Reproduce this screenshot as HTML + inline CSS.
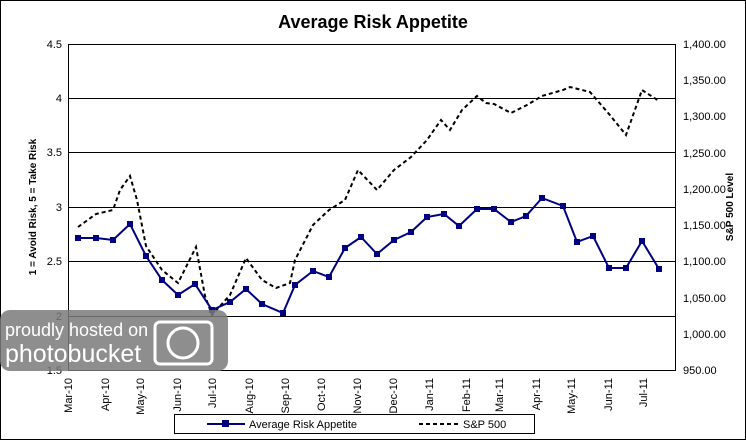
<!DOCTYPE html>
<html><head><meta charset="utf-8"><style>
body{margin:0;background:#fff;}
svg{display:block;font-family:"Liberation Sans",sans-serif;}
</style></head><body>
<svg width="746" height="440" viewBox="0 0 746 440">
<rect x="0.5" y="0.5" width="745" height="439" fill="#fff" stroke="#000"/>
<text x="373" y="28" font-size="18" font-weight="bold" text-anchor="middle">Average Risk Appetite</text>
<g stroke="#000" stroke-width="1">
<line x1="68" y1="98.5" x2="675" y2="98.5"/>
<line x1="68" y1="152.5" x2="675" y2="152.5"/>
<line x1="68" y1="207.5" x2="675" y2="207.5"/>
<line x1="68" y1="261.5" x2="675" y2="261.5"/>
<line x1="68" y1="316.5" x2="675" y2="316.5"/>
<rect x="68.5" y="44.5" width="607" height="326" fill="none"/>
</g>
<g font-size="11" text-anchor="end">
<text x="62" y="48">4.5</text><text x="62" y="102">4</text><text x="62" y="156">3.5</text>
<text x="62" y="211">3</text><text x="62" y="265">2.5</text><text x="62" y="320">2</text><text x="62" y="374">1.5</text>
</g>
<g font-size="11">
<text x="683" y="48">1,400.00</text><text x="683" y="84">1,350.00</text><text x="683" y="120">1,300.00</text>
<text x="683" y="157">1,250.00</text><text x="683" y="193">1,200.00</text><text x="683" y="229">1,150.00</text>
<text x="683" y="265">1,100.00</text><text x="683" y="302">1,050.00</text><text x="683" y="338">1,000.00</text><text x="683" y="374">950.00</text>
</g>
<text transform="translate(36,207) rotate(-90)" font-size="10" font-weight="bold" text-anchor="middle">1 = Avoid Risk, 5 = Take Risk</text>
<text transform="translate(733,207) rotate(-90)" font-size="10" font-weight="bold" text-anchor="middle">S&amp;P 500 Level</text>
<g font-size="11" text-anchor="end">
<text transform="translate(72,378) rotate(-90)">Mar-10</text>
<text transform="translate(109,378) rotate(-90)">Apr-10</text>
<text transform="translate(144,378) rotate(-90)">May-10</text>
<text transform="translate(181,378) rotate(-90)">Jun-10</text>
<text transform="translate(216,378) rotate(-90)">Jul-10</text>
<text transform="translate(253,378) rotate(-90)">Aug-10</text>
<text transform="translate(289,378) rotate(-90)">Sep-10</text>
<text transform="translate(325,378) rotate(-90)">Oct-10</text>
<text transform="translate(361,378) rotate(-90)">Nov-10</text>
<text transform="translate(397,378) rotate(-90)">Dec-10</text>
<text transform="translate(433,378) rotate(-90)">Jan-11</text>
<text transform="translate(470,378) rotate(-90)">Feb-11</text>
<text transform="translate(503,378) rotate(-90)">Mar-11</text>
<text transform="translate(540,378) rotate(-90)">Apr-11</text>
<text transform="translate(575,378) rotate(-90)">May-11</text>
<text transform="translate(612,378) rotate(-90)">Jun-11</text>
<text transform="translate(647,378) rotate(-90)">Jul-11</text>
</g>
<polyline fill="none" stroke="#000" stroke-width="2" stroke-dasharray="4,3" points="78,227 96,214 113,210 120,190 130,176 137,200 146,246 162,270 178,283 196,247 205,296 212,315 230,295 246,258 262,280 276,288 290,283 295,260 313,225 329,210 345,200 358,170 377,190 394,170 411,157 427,140 441,120 450,130 462,110 477,96 486,103 494,104 511,113 527,105 542,96 563,90 570,87 590,92 609,114 626,135 642,90 659,101"/>
<g fill="#000080">
<polyline fill="none" stroke="#000080" stroke-width="2" points="78,238 96,238 113,240 130,224 146,256 162,280 178,295 195,284 212,310 230,302 246,289 262,304 283,313 295,285 313,271 329,277 345,248 361,237 377,254 394,240 411,232 427,217 444,214 459,226 477,209 494,209 511,222 526,216 542,198 563,206 577,242 593,236 609,268 626,268 642,241 659,269"/>
<path d="M75,235h6v6h-6zM93,235h6v6h-6zM110,237h6v6h-6zM127,221h6v6h-6zM143,253h6v6h-6zM159,277h6v6h-6zM175,292h6v6h-6zM192,281h6v6h-6zM209,307h6v6h-6zM227,299h6v6h-6zM243,286h6v6h-6zM259,301h6v6h-6zM280,310h6v6h-6zM292,282h6v6h-6zM310,268h6v6h-6zM326,274h6v6h-6zM342,245h6v6h-6zM358,234h6v6h-6zM374,251h6v6h-6zM391,237h6v6h-6zM408,229h6v6h-6zM424,214h6v6h-6zM441,211h6v6h-6zM456,223h6v6h-6zM474,206h6v6h-6zM491,206h6v6h-6zM508,219h6v6h-6zM523,213h6v6h-6zM539,195h6v6h-6zM560,203h6v6h-6zM574,239h6v6h-6zM590,233h6v6h-6zM606,265h6v6h-6zM623,265h6v6h-6zM639,238h6v6h-6zM656,266h6v6h-6z"/>
</g>
<rect x="174.5" y="414.5" width="360" height="19" fill="#fff" stroke="#000"/>
<line x1="207" y1="424" x2="245" y2="424" stroke="#000080" stroke-width="2"/>
<rect x="222" y="420" width="7" height="7" fill="#000080"/>
<text x="249" y="428" font-size="11">Average Risk Appetite</text>
<line x1="419" y1="424" x2="458" y2="424" stroke="#000" stroke-width="2" stroke-dasharray="4,3"/>
<text x="463" y="428" font-size="11">S&amp;P 500</text>
<rect x="0" y="310" width="228" height="61" rx="10" fill="#7a7a7a" opacity="0.85"/>
<text x="5" y="336" font-size="18" fill="#fff">proudly hosted on</text>
<text x="5" y="362" font-size="25" fill="#fff">photobucket</text>
<rect x="155" y="322" width="57" height="42" rx="5" fill="none" stroke="#fff" stroke-width="3"/>
<circle cx="183" cy="343" r="15" fill="none" stroke="#fff" stroke-width="3"/>
</svg>
</body></html>
